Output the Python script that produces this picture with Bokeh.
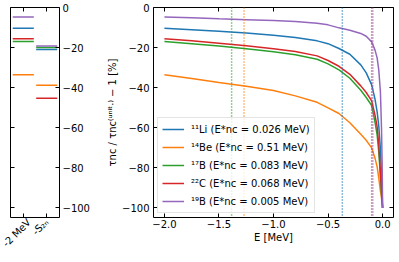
import math
from bokeh.plotting import figure
from bokeh.models import (LinearAxis, FixedTicker, CustomJSTickFormatter, Span,
                          Legend, LegendItem, Range1d)
from bokeh.layouts import row
from bokeh.embed import file_html
from bokeh.resources import INLINE

# ---------------- data ----------------
nuclei = ["¹¹Li", "¹⁴Be", "¹⁷B", "²²C", "¹⁹B"]
e_nc_star = ["0.026", "0.51", "0.083", "0.068", "0.005"]
colors = ["#1f77b4", "#ff7f0e", "#2ca02c", "#d62728", "#9467bd"]
s2n = [0.369, 1.27, 1.384, 0.100, 0.089]   # MeV

energy = [-2.0, -1.75, -1.5, -1.25, -1.0, -0.8, -0.6, -0.5, -0.4, -0.3,
          -0.2, -0.15, -0.1, -0.07, -0.05, -0.035, -0.02, -0.01, -0.004, 0.0]
li11 = [-10.2, -10.9, -11.7, -12.6, -13.7, -14.8, -16.5, -17.9, -20.3, -23.2,
        -28.5, -32.5, -38.5, -45.5, -52.0, -59.0, -70.5, -83.0, -92.0, -100.0]
be14 = [-33.4, -35.3, -37.3, -39.2, -41.3, -44.0, -47.2, -50.0, -52.8, -57.4,
        -63.2, -66.2, -70.0, -75.0, -79.5, -85.0, -91.5, -95.0, -98.0, -100.0]
b17 = [-16.8, -17.9, -19.1, -20.5, -22.0, -23.4, -25.7, -28.0, -31.0, -35.2,
       -41.2, -44.8, -48.8, -57.0, -63.5, -72.0, -84.0, -93.0, -97.0, -100.0]
c22 = [-15.4, -16.5, -17.7, -19.0, -20.4, -21.8, -24.0, -26.3, -29.2, -33.2,
       -39.0, -42.3, -46.5, -53.5, -59.5, -68.5, -82.0, -91.0, -96.0, -100.0]
b19 = [-4.6, -5.0, -5.5, -5.9, -6.3, -6.8, -7.7, -8.5, -10.0, -11.2,
       -12.8, -14.2, -17.0, -21.0, -25.0, -31.0, -42.0, -60.0, -78.0, -100.0]
series = [li11, be14, b17, c22, b19]

col_labels = ["-2 MeV", "-S₂ₙ"]
at_minus2 = [-10.2, -33.4, -16.8, -15.4, -4.6]
at_s2n = [-20.8, -38.7, -19.8, -45.2, -19.1]

x_ticks = [-2.0, -1.5, -1.0, -0.5, 0.0]
y_ticks = [0, -20, -40, -60, -80, -100]

FONT = "DejaVu Sans"
yr = Range1d(-104.77, 0.17)

fmt0 = CustomJSTickFormatter(code="return tick.toFixed(0).replace('-', '\u2212');")
fmt1 = CustomJSTickFormatter(code="return tick.toFixed(1).replace('-', '\u2212');")


def style_axis(ax, standoff=3):
    ax.axis_line_color = None
    ax.major_tick_in = 4
    ax.major_tick_out = 0
    ax.major_tick_line_color = "black"
    ax.minor_tick_line_color = None
    ax.major_label_text_font = FONT
    ax.major_label_text_color = "black"
    ax.major_label_text_font_size = "10px"
    ax.major_label_standoff = standoff
    ax.axis_label_text_font = FONT
    ax.axis_label_text_font_style = "normal"
    ax.axis_label_text_font_size = "10px"
    ax.axis_label_text_color = "black"


def tick_only_axis(ticks):
    # mirror axis: inward ticks, no labels at all
    ax = LinearAxis(ticker=FixedTicker(ticks=ticks))
    ax.axis_line_color = None
    ax.major_tick_in = 4
    ax.major_tick_out = 0
    ax.major_tick_line_color = "black"
    ax.minor_tick_line_color = None
    ax.major_label_text_font_size = "0px"
    ax.major_label_standoff = 0
    ax.major_label_text_alpha = 0
    ax.major_label_overrides = {t: "" for t in ticks}
    return ax


TOP = 7
BOTTOM = 42
HEIGHT = 259
# ---------------- left panel ----------------
p1 = figure(width=98, height=HEIGHT, x_range=Range1d(-0.545, 1.545), y_range=yr,
            output_backend="svg", toolbar_location=None,
            x_axis_location=None, y_axis_location=None,
            min_border_left=10, min_border_right=39,
            min_border_top=TOP, min_border_bottom=BOTTOM)
p1.grid.visible = False
p1.outline_line_color = "black"
p1.outline_line_width = 1

half = 0.45
for i in range(len(nuclei)):
    for j, vals in enumerate([at_minus2, at_s2n]):
        p1.segment(x0=[j - half], x1=[j + half], y0=[vals[i]], y1=[vals[i]],
                   line_color=colors[i], line_width=1.5)

cat_ticks = list(range(len(col_labels)))
ax = LinearAxis(ticker=FixedTicker(ticks=cat_ticks),
                major_label_overrides={k: lab for k, lab in enumerate(col_labels)})
style_axis(ax, 3)
ax.major_label_orientation = math.pi / 4
p1.add_layout(ax, "below")
p1.add_layout(tick_only_axis(cat_ticks), "above")
ax = LinearAxis(ticker=FixedTicker(ticks=y_ticks), formatter=fmt0)
style_axis(ax, 3)
p1.add_layout(ax, "right")
p1.add_layout(tick_only_axis(y_ticks), "left")

# ---------------- right panel ----------------
p2 = figure(width=298, height=HEIGHT, x_range=Range1d(-2.1, 0.1), y_range=yr,
            output_backend="svg", toolbar_location=None,
            x_axis_location=None, y_axis_location=None,
            min_border_left=55, min_border_right=3,
            min_border_top=TOP, min_border_bottom=BOTTOM)
p2.grid.visible = False
p2.outline_line_color = "black"
p2.outline_line_width = 1

items = []
for i, vals in enumerate(series):
    r = p2.line(energy, vals, line_color=colors[i], line_width=1.5)
    items.append(LegendItem(label=f"{nuclei[i]} (E*nc = {e_nc_star[i]} MeV)",
                            renderers=[r]))
for i, s in enumerate(s2n):
    p2.add_layout(Span(location=-s, dimension="height", line_color=colors[i],
                       line_width=1.5, line_dash="1 2"))

ax = LinearAxis(ticker=FixedTicker(ticks=x_ticks), formatter=fmt1,
                axis_label="E [MeV]")
style_axis(ax, 2)
ax.axis_label_standoff = 1
p2.add_layout(ax, "below")
p2.add_layout(tick_only_axis(x_ticks), "above")
ax = LinearAxis(ticker=FixedTicker(ticks=y_ticks), formatter=fmt0,
                axis_label="τnc / τnc⁽ᵘⁿⁱᵗ·⁾ − 1 [%]")
style_axis(ax, 4)
ax.axis_label_standoff = 1
p2.add_layout(ax, "left")
p2.add_layout(tick_only_axis(y_ticks), "right")

legend = Legend(items=items, location="bottom_left", margin=4, padding=4,
                spacing=4, glyph_width=22, glyph_height=14, label_height=14,
                label_standoff=7, label_text_font=FONT,
                label_text_font_size="10px", label_text_color="black",
                border_line_color="#cccccc", border_line_width=1,
                background_fill_alpha=0.8)
p2.add_layout(legend)

layout = row(p1, p2)
open("out.html", "w").write(file_html(layout, INLINE))
